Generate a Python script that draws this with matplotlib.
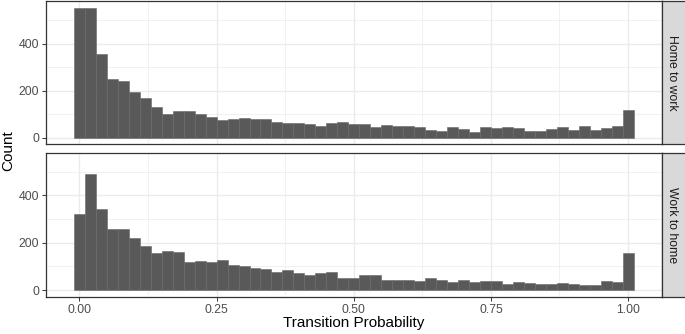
import matplotlib
matplotlib.use('Agg')
import matplotlib.pyplot as plt
import numpy as np

plt.rcParams['font.family'] = ['Liberation Sans', 'DejaVu Sans']

# histogram bins: binwidth 0.02, centres 0.00 .. 1.00
bin_centers = np.round(np.arange(51) * 0.02, 2)

home_to_work = [551, 554, 356, 248, 241, 194, 168, 131, 102, 115,
                116, 101, 90, 74, 81, 84, 79, 80, 67, 62,
                65, 59, 49, 63, 67, 59, 58, 44, 55, 48,
                49, 46, 34, 29, 46, 38, 25, 45, 41, 45,
                42, 28, 28, 38, 44, 32, 51, 35, 41, 48,
                119]

work_to_home = [323, 491, 345, 260, 260, 219, 188, 159, 166, 161,
                118, 124, 121, 128, 107, 104, 94, 90, 76, 86,
                73, 66, 72, 76, 51, 51, 62, 62, 41, 41,
                42, 39, 53, 42, 35, 44, 36, 38, 39, 24,
                34, 31, 25, 27, 31, 24, 22, 21, 39, 35,
                157]

panels = [('Home to work', home_to_work), ('Work to home', work_to_home)]
x_ticks = [0.0, 0.25, 0.5, 0.75, 1.0]
x_labels = ['0.00', '0.25', '0.50', '0.75', '1.00']
y_ticks = [0, 200, 400]

W, H = 685, 334
fig = plt.figure(figsize=(W / 100, H / 100), dpi=100)

left, right = 46 / W, 661.5 / W
boxes = [(1.0, 144.3), (152.5, 296.7)]

ymax = max(max(home_to_work), max(work_to_home))
ylim = (-0.05 * ymax, 1.05 * ymax)
xlim = (-0.01 - 0.051, 1.01 + 0.051)

for i, ((name, counts), (top, bottom)) in enumerate(zip(panels, boxes)):
    ax = fig.add_axes([left, 1 - bottom / H, right - left, (bottom - top) / H])
    ax.set_axisbelow(True)
    ax.bar(bin_centers, counts, width=0.02, color='#595959',
           edgecolor='#686868', linewidth=0.4)
    ax.set_xlim(*xlim)
    ax.set_ylim(*ylim)
    ax.set_xticks(x_ticks)
    ax.set_xticks([0.125, 0.375, 0.625, 0.875], minor=True)
    ax.set_yticks(y_ticks)
    ax.set_yticks([100, 300, 500], minor=True)
    ax.grid(which='major', color='#EBEBEB', lw=1.0)
    ax.grid(which='minor', color='#EBEBEB', lw=0.5)
    ax.tick_params(which='minor', length=0)
    ax.tick_params(which='major', length=3, width=0.7, color='#333333',
                   labelsize=8.8, labelcolor='#4D4D4D', pad=2)
    if i == 0:
        ax.set_xticklabels([])
        ax.tick_params(axis='x', length=0)
    else:
        ax.set_xticklabels(x_labels)
    for sp in ax.spines.values():
        sp.set_color('#333333')
        sp.set_linewidth(0.9)

    strip = fig.add_axes([right, 1 - bottom / H, 1.02 - right, (bottom - top) / H])
    strip.set_facecolor('#D9D9D9')
    strip.set_xticks([])
    strip.set_yticks([])
    for sp in strip.spines.values():
        sp.set_color('#333333')
        sp.set_linewidth(0.9)
    strip.text(0.29, 0.5, name, rotation=270, ha='center', va='center',
               fontsize=8.8, color='#1A1A1A', transform=strip.transAxes)

fig.text((left + right) / 2, 0.012, 'Transition Probability', ha='center',
         va='bottom', fontsize=11, color='black')
fig.text(0.002, 0.55, 'Count', rotation=90, ha='left', va='center',
         fontsize=11, color='black')

fig.savefig('out.png', dpi=100)
